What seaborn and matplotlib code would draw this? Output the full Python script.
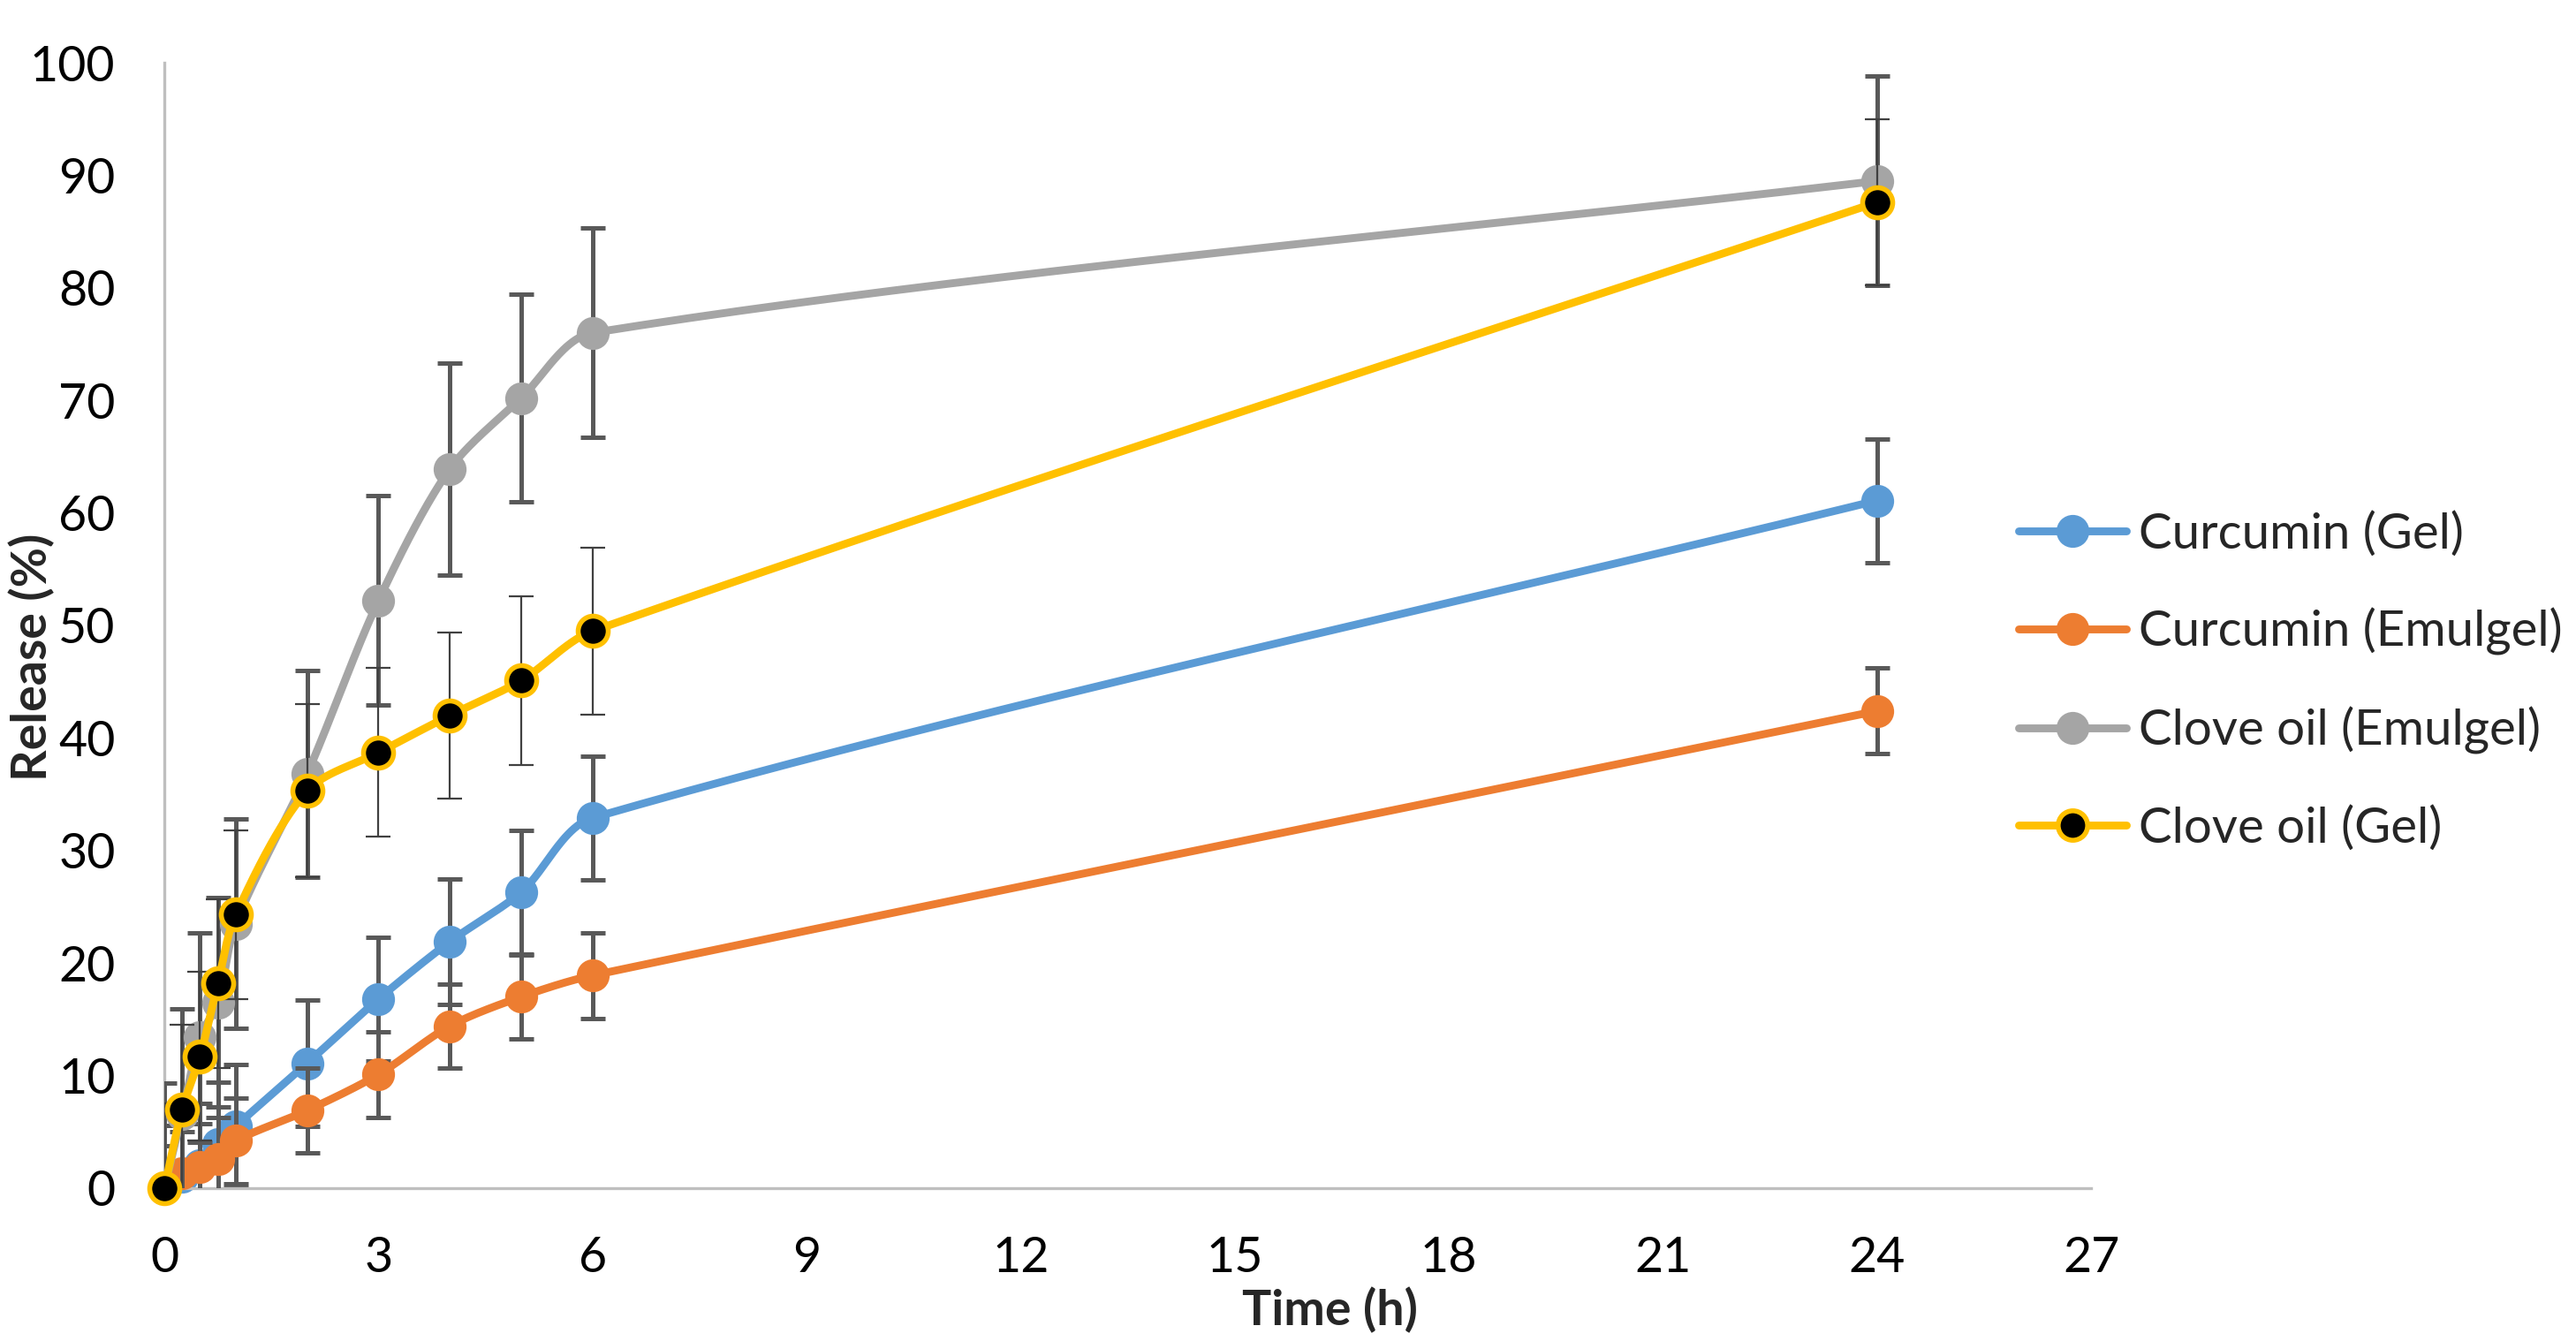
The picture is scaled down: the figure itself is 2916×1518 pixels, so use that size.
import numpy as np
import pandas as pd
import matplotlib
matplotlib.use('Agg')
import matplotlib.pyplot as plt
from matplotlib.lines import Line2D
import seaborn as sns

# release data (mean, SD)
time_h = [0, 0.25, 0.5, 0.75, 1, 2, 3, 4, 5, 6, 24]

cur_gel = [0, 1.0, 2.0, 3.9, 5.5, 11.1, 16.8, 21.9, 26.3, 32.9, 61.1]
cur_gel_sd = [5.6, 5.5, 5.5, 5.5, 5.5, 5.6, 5.5, 5.6, 5.5, 5.5, 5.5]

cur_emul = [0, 1.3, 1.9, 2.6, 4.2, 6.9, 10.1, 14.4, 17.0, 18.9, 42.4]
cur_emul_sd = [3.8, 3.7, 3.8, 3.7, 3.8, 3.8, 3.8, 3.7, 3.7, 3.8, 3.8]

clove_emul = [0, 6.6, 13.4, 16.5, 23.5, 36.8, 52.2, 63.9, 70.2, 76.0, 89.5]
clove_emul_sd = [9.3, 9.3, 9.3, 9.3, 9.3, 9.2, 9.3, 9.4, 9.2, 9.3, 9.3]

clove_gel = [0, 7.0, 11.7, 18.2, 24.3, 35.3, 38.7, 42.0, 45.1, 49.5, 87.6]
clove_gel_sd = [7.5, 7.5, 7.5, 7.5, 7.5, 7.7, 7.5, 7.4, 7.5, 7.4, 7.4]

labels = ['Curcumin (Gel)', 'Curcumin (Emulgel)', 'Clove oil (Emulgel)', 'Clove oil (Gel)']
colors = ['#5B9BD5', '#ED7D31', '#A5A5A5', '#FFC000']

# rough px-per-unit of the plot, so the smoothing works in screen space
SX, SY = 80.7, 12.74


def smooth(x, y, k=0.3, n=50):
    # bezier through the points, tangent from neighbours, handle length from chord
    P = np.column_stack([np.asarray(x, float) * SX, np.asarray(y, float) * SY])
    N = len(P)
    tan = np.zeros_like(P)
    for i in range(N):
        a = P[max(i - 1, 0)]
        b = P[min(i + 1, N - 1)]
        v = b - a
        tan[i] = v / np.hypot(*v)
    out = []
    t = np.linspace(0, 1, n)[:, None]
    for i in range(N - 1):
        L = np.hypot(*(P[i + 1] - P[i]))
        c1 = P[i] + tan[i] * L * k
        c2 = P[i + 1] - tan[i + 1] * L * k
        seg = ((1 - t)**3 * P[i] + 3 * (1 - t)**2 * t * c1
               + 3 * (1 - t) * t**2 * c2 + t**3 * P[i + 1])
        out.append(seg if i == 0 else seg[1:])
    out = np.vstack(out)
    return out[:, 0] / SX, out[:, 1] / SY


sns.set_theme(style='white')
plt.rcParams['font.family'] = ['Lato', 'DejaVu Sans']

fig = plt.figure(figsize=(14.58, 7.59), dpi=200)
ax = fig.add_axes([0.0638, 0.114, 0.748, 0.8392])

series = [(cur_gel, cur_gel_sd), (cur_emul, cur_emul_sd),
          (clove_emul, clove_emul_sd), (clove_gel, clove_gel_sd)]

handles = []
for i, ((vals, sd), lab, col) in enumerate(zip(series, labels, colors)):
    thin = lab == 'Clove oil (Gel)'
    ax.errorbar(time_h, vals, yerr=sd, fmt='none',
                ecolor='#404040' if thin else '#595959',
                elinewidth=0.8 if thin else 1.8, capsize=4.9,
                capthick=0.8 if thin else 1.8, zorder=2 + i)
    sx, sy = smooth(time_h, vals)
    sns.lineplot(x=sx, y=sy, color=col, linewidth=3.2, sort=False,
                 estimator=None, ax=ax, zorder=2.2 + i)
    face = 'black' if thin else col
    sns.scatterplot(x=time_h, y=vals, color=face, edgecolor=col,
                    s=150 if thin else 180, linewidth=2.0 if thin else 0,
                    ax=ax, zorder=2.5 + i, clip_on=False)
    handles.append(Line2D([0], [0], color=col, linewidth=3.2, marker='o',
                          markersize=12 if thin else 13.4, markerfacecolor=face,
                          markeredgecolor=col, markeredgewidth=2.0 if thin else 0,
                          solid_capstyle='round'))

ax.set_xlim(0, 27)
ax.set_ylim(0, 100)
ax.set_xticks(np.arange(0, 28, 3))
ax.set_yticks(np.arange(0, 101, 10))
ax.tick_params(axis='both', length=0, labelsize=20, colors='black')
ax.tick_params(axis='x', pad=19.5)
ax.tick_params(axis='y', pad=20)
for s in ['top', 'right']:
    ax.spines[s].set_visible(False)
for s in ['left', 'bottom']:
    ax.spines[s].set_color('#BFBFBF')
    ax.spines[s].set_linewidth(1.2)

ax.set_xlabel('Time (h)', fontsize=20, fontweight='bold')
ax.set_ylabel('Release (%)', fontsize=20, fontweight='bold')
ax.xaxis.set_label_coords(0.605, -0.088)
ax.yaxis.set_label_coords(-0.057, 0.472)

fig.legend(handles, labels, loc='center left', bbox_to_anchor=(0.776, 0.492),
           frameon=False, fontsize=20.3, handlelength=2.15, handletextpad=0.25,
           labelspacing=1.02, borderaxespad=0)

fig.savefig('out.png', dpi=200)
